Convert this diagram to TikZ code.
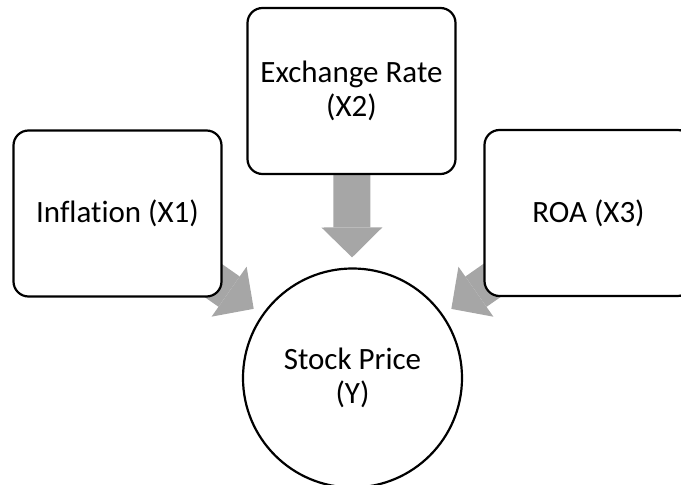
\documentclass[tikz,border=0pt]{standalone}
\usepackage{fontspec}
\setmainfont{Carlito}[Ligatures=CommonOff]
\usetikzlibrary{arrows.meta,backgrounds}
\definecolor{arrowgray}{HTML}{A6A6A6}
\begin{document}
\begin{tikzpicture}
[
    x=1pt, y=1pt,
    factor/.style={draw, line width=2.2pt, rounded corners=15pt, fill=white,
        minimum width=208pt, minimum height=166pt, align=center,
        font=\fontsize{31}{34}\selectfont},
    target/.style={draw, circle, line width=2.2pt, fill=white, inner sep=0pt,
        minimum size=219pt, align=center, font=\fontsize{31}{34}\selectfont},
    effect/.style={draw=arrowgray, line width=37pt, shorten >=10pt,
        -{Triangle[length=30pt, width=61pt, line width=0pt]}},
]
\useasboundingbox (0,0) rectangle (681,485);
\node[factor] (inflation) at (117.5,271.5) {Inflation (X1)};
\node[factor] (exchange) at (351.5,394) {Exchange Rate\\(X2)};
\node[factor] (roa) at (588.5,272) {ROA (X3)};
\node[target] (stock) at (352.5,107) {Stock Price\\(Y)};
\begin{scope}[on background layer]
    \draw[effect] (inflation.center) -- (stock);
    \draw[effect] (exchange.center) -- (stock);
    \draw[effect] (roa.center) -- (stock);
\end{scope}
\end{tikzpicture}
\end{document}
